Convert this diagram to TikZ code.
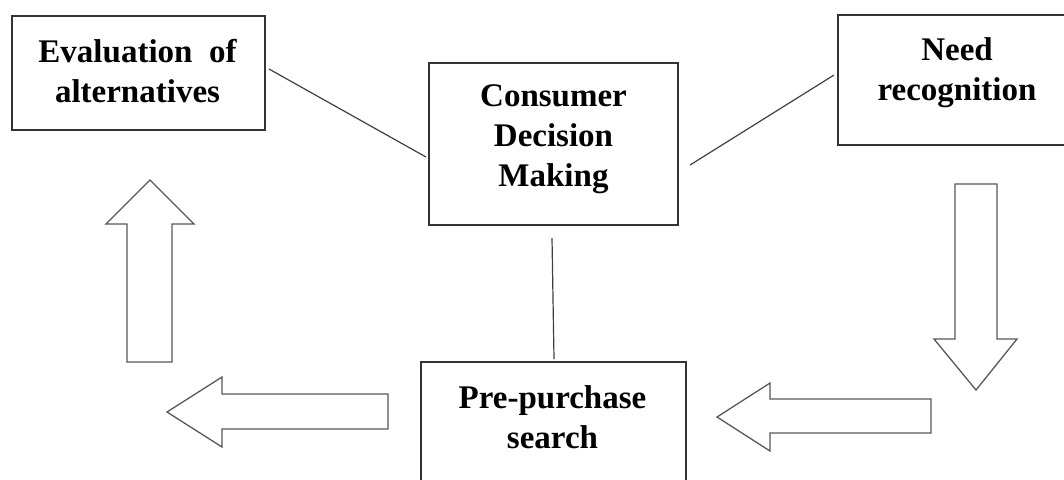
\documentclass[tikz,border=0pt]{standalone}
\usepackage{fontspec}
\setmainfont{Liberation Serif}
\begin{document}
\begin{tikzpicture}[x=0.5pt,y=-0.5pt,
  boxst/.style={draw=black!80, line width=0.65pt, rectangle, inner sep=0pt, outer sep=0pt, fill=white},
  txt/.style={font=\fontsize{16.5}{20}\selectfont\bfseries, align=center, inner sep=0pt},
  conn/.style={draw=black!75, line width=0.6pt},
  bigarrow/.style={draw=black!65, line width=0.65pt, fill=white, line join=miter}]
\useasboundingbox (0,0) rectangle (1064,479);
\clip (0,0) rectangle (1064,479);
\fill[white] (0,0) rectangle (1064,479);
% boxes
\node[boxst, minimum width=126.5pt, minimum height=57pt] (eval) at (138.5,73) {};
\node[boxst, minimum width=124.5pt, minimum height=81pt] (cdm) at (553.5,144) {};
\node[boxst, minimum width=119pt, minimum height=65pt] (need) at (957,80) {};
\node[boxst, minimum width=132.5pt, minimum height=79pt] (pre) at (553.5,441) {};
% texts
\node[txt] (evalt) at (137.5,71) {Evaluation\ \ of\\alternatives};
\node[txt] (cdmt) at (553.5,139) {Consumer\\Decision\\Making};
\node[txt] (needt) at (957,72.5) {Need\\recognition};
\node[txt] (pret) at (552.5,417) {Pre-purchase\\search};
% connectors
\draw[conn] ([xshift=2pt,yshift=2pt]eval.east) -- ([xshift=-1.5pt,yshift=-6.5pt]cdm.west);
\draw[conn] ([xshift=6pt,yshift=-10.5pt]cdm.east) -- ([xshift=-2pt,yshift=2.5pt]need.west);
\draw[conn] ([xshift=-0.75pt,yshift=-6.5pt]cdm.south) -- ([xshift=0.25pt,yshift=1.5pt]pre.north);
% block arrows
\draw[bigarrow] (127,362) -- (127,224) -- (106,224) -- (150,180) -- (194,224) -- (172,224) -- (172,362) -- cycle;
\draw[bigarrow] (955,184) -- (997,184) -- (997,339) -- (1017,339) -- (976,390) -- (934,339) -- (955,339) -- cycle;
\draw[bigarrow] (388,394) -- (222,394) -- (222,377) -- (167,412) -- (222,447) -- (222,429) -- (388,429) -- cycle;
\draw[bigarrow] (931,399) -- (770,399) -- (770,383) -- (717,417) -- (770,451) -- (770,433) -- (931,433) -- cycle;
\end{tikzpicture}
\end{document}
